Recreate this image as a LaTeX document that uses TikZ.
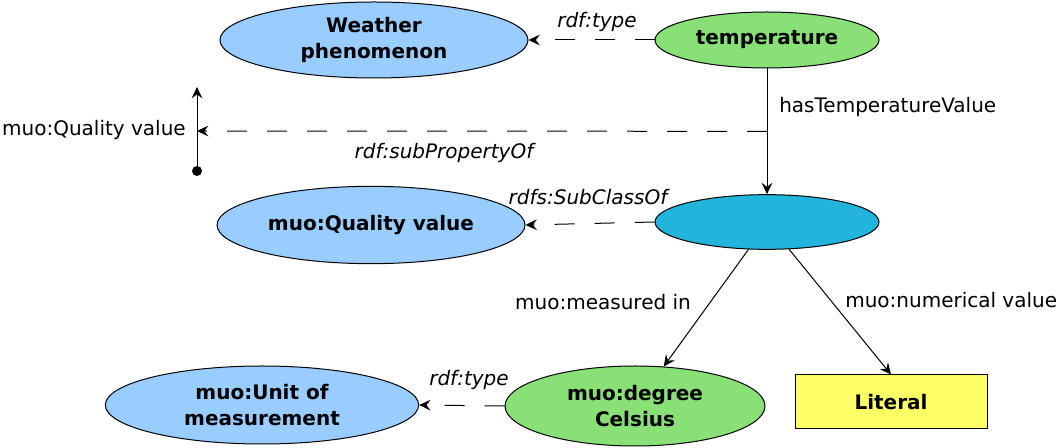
\documentclass[tikz,border=0pt]{standalone}
\usepackage{fontspec}
\setmainfont{DejaVu Sans}
\usepackage{xcolor}
\usetikzlibrary{calc,positioning,shapes.geometric,arrows.meta}
\definecolor{classblue}{HTML}{99CCFF}
\definecolor{instgreen}{HTML}{88E077}
\definecolor{nodecyan}{HTML}{22B5DB}
\definecolor{lityellow}{HTML}{FFFF66}
\tikzset{
	class/.style={ellipse, draw, line width=0.75pt, fill=classblue, inner sep=0pt, align=center, font=\bfseries},
	inst/.style={ellipse, draw, line width=0.75pt, fill=instgreen, inner sep=0pt, align=center, font=\bfseries},
	link/.style={line width=0.75pt, -{Stealth[length=8.5pt,width=8pt,inset=3pt]}},
	sublink/.style={link, dash pattern=on 15pt off 15pt},
	lbl/.style={inner sep=0pt, font=\itshape}
}
\begin{document}
\begin{tikzpicture}[x=0.75pt, y=-0.75pt]
	\fontsize{15}{19}\selectfont
	\useasboundingbox (0,0) rectangle (1061,448);
		% top row
		\node[class, minimum width=231pt, minimum height=57pt] (weather) at (374,40) {Weather\\phenomenon};
		\node[inst, minimum width=168pt, minimum height=42pt] (temp) at (767,40) {temperature};
		\node[lbl] (typeA) at (597,22) {rdf:type};
		\draw[sublink] (temp.west) -- (weather.east);

		% quality value node
		\node[ellipse, draw, line width=0.75pt, fill=nodecyan, minimum width=168pt, minimum height=41pt] (qv) at (767,222) {};
		\node[class, minimum width=231pt, minimum height=58pt] (quality) at (371,225) {muo:Quality value};
		\node[lbl] (subclass) at (588,197) {rdfs:SubClassOf};
		\draw[sublink] (qv.west) -- (quality.east);

		\draw[link] (temp.south) -- (qv.north);
		\node[inner sep=0pt, anchor=west] (hasTemp) at (779,107) {hasTemperatureValue};

		% sub property
		\coordinate (branch) at ($(temp.south)!0.5!(qv.north)$);
		\coordinate (qvprop) at (197,131);
		\coordinate (qvtop) at (197,87);
		\node[circle, fill, inner sep=0pt, minimum size=7.5pt] (qvdot) at (197,171) {};
		\draw[link] (qvdot.center) -- (qvtop);
		\draw[sublink] (branch) -- (qvprop);
		\node[inner sep=0pt, anchor=east] (qvname) at (186,130) {muo:Quality value};
		\node[lbl] (subprop) at (444,153) {rdf:subPropertyOf};

		% bottom row
		\node[inst, minimum width=195pt, minimum height=60pt] (celsius) at (635,406) {muo:degree\\Celsius};
		\node[class, minimum width=235pt, minimum height=58.5pt] (unit) at (262,405) {muo:Unit of\\measurement};
		\node[draw, line width=0.75pt, fill=lityellow, minimum width=144pt, minimum height=40.5pt, font=\bfseries] (literal) at (891,402) {Literal};
		\node[lbl] (typeB) at (469,380) {rdf:type};
		\draw[sublink] (celsius.west) -- (unit.east);

		\draw[link] (qv.236) -- (celsius.54);
		\node[inner sep=0pt] (measured) at (603,302) {muo:measured in};
		\draw[link] (qv.309) -- (literal.north);
		\node[inner sep=0pt, anchor=west] (numerical) at (845,300) {muo:numerical value};
\end{tikzpicture}
\end{document}
